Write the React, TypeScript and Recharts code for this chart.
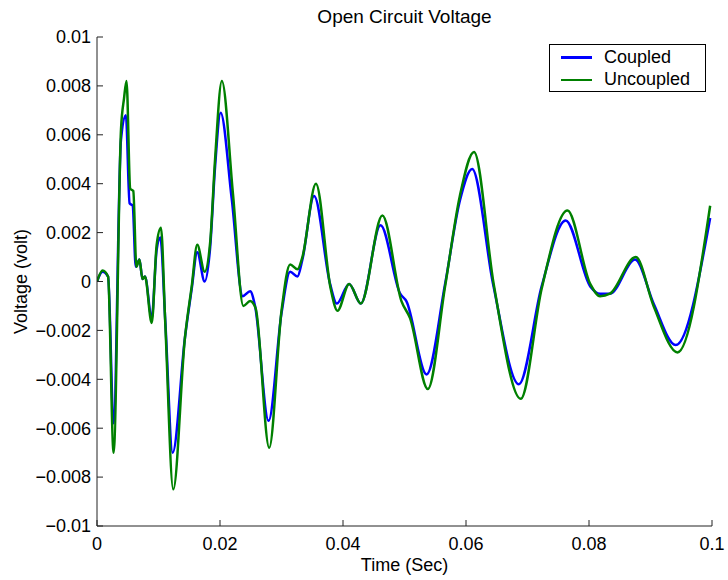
import React from "react";
import { LineChart, Line, XAxis, YAxis, Legend } from "recharts";

// Open circuit voltage
const coupledTime = [
  0, 0.0009, 0.0018, 0.0027, 0.0039, 0.0047, 0.0053, 0.0058, 0.0063, 0.0069,
  0.0074, 0.0078, 0.0089, 0.0097, 0.0103, 0.0111, 0.0123, 0.0143, 0.0154,
  0.0163, 0.0175, 0.0184, 0.0192, 0.0201, 0.0219, 0.0237, 0.0249, 0.0257,
  0.0279, 0.03, 0.0314, 0.0326, 0.0334, 0.0353, 0.0379, 0.039, 0.041, 0.0429,
  0.0461, 0.0493, 0.0503, 0.0536, 0.0566, 0.059, 0.061, 0.0644, 0.0686,
  0.0723, 0.0762, 0.0802, 0.0818, 0.0834, 0.0875, 0.0905, 0.0941, 0.0997,
];
const coupledVolt = [
  0, 0.0004, 0.0002, -0.0058, 0.0058, 0.0068, 0.0032, 0.0031, 0.0006, 0.0009,
  0.0001, 0.0002, -0.0015, 0.0013, 0.0018, -0.0016, -0.007, -0.0023, -0.0003,
  0.0012, 0.0, 0.0014, 0.0047, 0.0069, 0.0034, -0.0006, -0.0004, -0.001,
  -0.0057, -0.0013, 0.0004, 0.0002, 0.0009, 0.0035, -0.0001, -0.0009, -0.0001,
  -0.0009, 0.0023, -0.0005, -0.0008, -0.0038, -0.0001, 0.0033, 0.0046,
  -0.0001, -0.0042, -0.0002, 0.0025, -0.0002, -0.0005, -0.0005, 0.0009,
  -0.0009, -0.0026, 0.0026,
];

const uncoupledTime = [
  0, 0.0009, 0.0018, 0.0027, 0.0039, 0.0044, 0.0048, 0.0054, 0.0059, 0.0064,
  0.0069, 0.0074, 0.0078, 0.0089, 0.0097, 0.0104, 0.0111, 0.0124, 0.0143,
  0.0154, 0.0163, 0.0175, 0.0184, 0.0192, 0.0203, 0.0221, 0.0238, 0.0249,
  0.0258, 0.028, 0.03, 0.0314, 0.0326, 0.0334, 0.0356, 0.038, 0.0391, 0.041,
  0.0429, 0.0464, 0.0495, 0.0509, 0.0538, 0.0566, 0.059, 0.0613, 0.0645,
  0.0689, 0.0723, 0.0765, 0.0802, 0.0818, 0.0834, 0.0876, 0.0905, 0.0944,
  0.0997,
];
const uncoupledVolt = [
  0, 0.00045, 0.0002, -0.007, 0.0062, 0.0075, 0.0082, 0.0038, 0.0037, 0.0006,
  0.0009, 0.0001, 0.0002, -0.0017, 0.0015, 0.0022, -0.0017, -0.0085, -0.0023,
  -0.0002, 0.0015, 0.0004, 0.0016, 0.005, 0.0082, 0.0036, -0.001, -0.0008,
  -0.0011, -0.0068, -0.0012, 0.0007, 0.0005, 0.001, 0.004, -0.0003, -0.0012,
  -0.0001, -0.0009, 0.0027, -0.0008, -0.0015, -0.0044, -0.0002, 0.0035,
  0.0053, -0.0001, -0.0048, -0.0003, 0.0029, -0.0001, -0.0006, -0.0005, 0.001,
  -0.001, -0.0029, 0.0031,
];

const xTicks = [0, 0.02, 0.04, 0.06, 0.08, 0.1];
const yTicks = [
  -0.01, -0.008, -0.006, -0.004, -0.002, 0, 0.002, 0.004, 0.006, 0.008, 0.01,
];

const seriesNames = ["Coupled", "Uncoupled"];
const seriesColors = ["#0000ff", "#008000"];

const coupledData = coupledTime.map((t, i) => ({ t, v: coupledVolt[i] }));
const uncoupledData = uncoupledTime.map((t, i) => ({ t, v: uncoupledVolt[i] }));

const FONT = '"Liberation Sans", Arial, Helvetica, sans-serif';
const fmt = (v: number) =>
  v === 0 ? "0" : String(+v.toFixed(3)).replace("-", "\u2212");

function LegendBox() {
  return (
    <div
      style={{
        width: 157,
        height: 48,
        boxSizing: "border-box",
        border: "1.3px solid #000",
        background: "#fff",
        paddingTop: 1,
        fontFamily: FONT,
        fontSize: 18,
        color: "#000",
      }}
    >
      {seriesNames.map((name, i) => (
        <div
          key={name}
          style={{ display: "flex", alignItems: "center", height: 22.6 }}
        >
          <span
            style={{
              display: "inline-block",
              width: 31,
              height: 2.5,
              marginLeft: 11,
              marginRight: 12,
              background: seriesColors[i],
            }}
          />
          <span>{name}</span>
        </div>
      ))}
    </div>
  );
}

export default function App() {
  return (
    <div
      style={{
        position: "fixed",
        left: 0,
        top: 0,
        width: 728,
        height: 580,
        background: "#fff",
        fontFamily: FONT,
      }}
    >
      <div
        style={{
          position: "absolute",
          left: 97,
          width: 615,
          top: 6,
          textAlign: "center",
          fontSize: 19,
          lineHeight: "22px",
          color: "#000",
        }}
      >
        Open Circuit Voltage
      </div>
      <LineChart
        width={728}
        height={580}
        margin={{ top: 37, right: 16, bottom: 0, left: 0 }}
      >
        <XAxis
          dataKey="t"
          type="number"
          domain={[0, 0.1]}
          ticks={xTicks}
          interval={0}
          tickFormatter={fmt}
          allowDataOverflow
          height={54}
          tickSize={-6}
          tickMargin={17}
          stroke="#222"
          tick={{ fill: "#000", fontSize: 18, fontFamily: FONT }}
          label={{
            content: ({ viewBox }: any) => (
              <text
                x={viewBox.x + viewBox.width / 2}
                y={viewBox.y + 45}
                textAnchor="middle"
                fontSize={18}
                fontFamily={FONT}
                fill="#000"
              >
                Time (Sec)
              </text>
            ),
          }}
        />
        <YAxis
          type="number"
          domain={[-0.01, 0.01]}
          ticks={yTicks}
          interval={0}
          tickFormatter={fmt}
          allowDataOverflow
          width={97}
          tickSize={-6}
          tickMargin={12}
          stroke="#222"
          tick={{ fill: "#000", fontSize: 18, fontFamily: FONT }}
          label={{
            content: ({ viewBox }: any) => {
              const cx = viewBox.x + 27;
              const cy = viewBox.y + viewBox.height / 2;
              return (
                <text
                  x={cx}
                  y={cy}
                  textAnchor="middle"
                  fontSize={18}
                  fontFamily={FONT}
                  fill="#000"
                  transform={`rotate(-90 ${cx} ${cy})`}
                >
                  Voltage (volt)
                </text>
              );
            },
          }}
        />
        <Legend
          layout="vertical"
          align="center"
          verticalAlign="middle"
          content={() => <LegendBox />}
          wrapperStyle={{
            position: "absolute",
            left: 549,
            top: 44,
            width: 157,
            height: 48,
          }}
        />
        <Line
          data={coupledData}
          dataKey="v"
          name={seriesNames[0]}
          type="monotone"
          stroke={seriesColors[0]}
          strokeWidth={2.5}
          dot={false}
          activeDot={false}
          isAnimationActive={false}
        />
        <Line
          data={uncoupledData}
          dataKey="v"
          name={seriesNames[1]}
          type="monotone"
          stroke={seriesColors[1]}
          strokeWidth={2.5}
          dot={false}
          activeDot={false}
          isAnimationActive={false}
        />
      </LineChart>
    </div>
  );
}
